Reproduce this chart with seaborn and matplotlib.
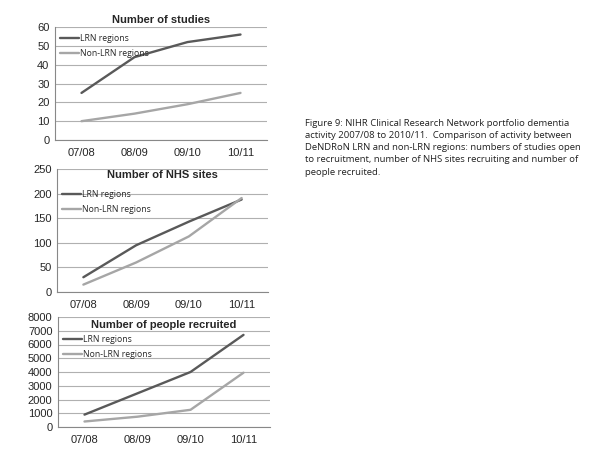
import matplotlib
matplotlib.use("Agg")
import matplotlib.pyplot as plt
import seaborn as sns
import pandas as pd

years = ["07/08", "08/09", "09/10", "10/11"]
series = ["LRN regions", "Non-LRN regions"]

studies_lrn = [25, 44, 52, 56]
studies_non = [10, 14, 19, 25]
sites_lrn = [30, 95, 143, 188]
sites_non = [15, 60, 113, 191]
people_lrn = [900, 2450, 4000, 6700]
people_non = [400, 750, 1250, 3950]

titles = ["Number of studies", "Number of NHS sites", "Number of people recruited"]
yticks = [range(0, 61, 10), range(0, 251, 50), range(0, 8001, 1000)]

caption = ("Figure 9: NIHR Clinical Research Network portfolio dementia\n"
           "activity 2007/08 to 2010/11.  Comparison of activity between\n"
           "DeNDRoN LRN and non-LRN regions: numbers of studies open\n"
           "to recruitment, number of NHS sites recruiting and number of\n"
           "people recruited.")

sns.set_style("white")
plt.rcParams["font.family"] = ["Liberation Sans", "DejaVu Sans"]

palette = {"LRN regions": "#595959", "Non-LRN regions": "#a6a6a6"}

fig = plt.figure(figsize=(6, 4.5), dpi=100)

# pixel boxes: left, top, right, bottom
boxes = [(55, 27, 267, 140), (57, 169, 268, 292), (58, 317, 270, 427)]
title_y = [1.06, 0.95, 0.93]
legend_y = [0.98, 0.87, 0.88]

panels = [(studies_lrn, studies_non), (sites_lrn, sites_non), (people_lrn, people_non)]

for i, (lrn, non) in enumerate(panels):
    l, t, r, b = boxes[i]
    ax = fig.add_axes([l / 600, 1 - b / 450, (r - l) / 600, (b - t) / 450])
    df = pd.DataFrame({
        "year": years * 2,
        "value": lrn + non,
        "series": [series[0]] * 4 + [series[1]] * 4,
    })
    df["x"] = df["year"].map({y: k for k, y in enumerate(years)})
    sns.lineplot(data=df, x="x", y="value", hue="series", palette=palette,
                 linewidth=1.7, ax=ax)
    ax.set_xlim(-0.5, 3.5)
    ax.set_ylim(min(yticks[i]), max(yticks[i]))
    ax.set_yticks(list(yticks[i]))
    ax.set_xticks(range(4))
    ax.set_xticklabels(years)
    ax.set_xticks([-0.5, 0.5, 1.5, 2.5, 3.5], minor=True)
    ax.tick_params(axis="x", which="major", length=0, labelsize=8, pad=6)
    ax.tick_params(axis="x", which="minor", length=4, color="#888888", direction="out")
    ax.tick_params(axis="y", length=0, labelsize=8, pad=4)
    ax.set_xlabel("")
    ax.set_ylabel("")
    ax.grid(axis="y", color="#b0b0b0", linewidth=0.8)
    for s in ["top", "right"]:
        ax.spines[s].set_visible(False)
    for s in ["left", "bottom"]:
        ax.spines[s].set_color("#888888")
        ax.spines[s].set_linewidth(0.8)
    ax.text(0.5, title_y[i], titles[i], transform=ax.transAxes, ha="center",
            va="center", fontsize=8, fontweight="bold")
    ax.legend(loc="upper left", bbox_to_anchor=(0.0, legend_y[i]),
              frameon=False, handlelength=2.2,
              handletextpad=0.1, borderaxespad=0.2, labelspacing=0.7,
              prop={"family": ["Open Sans", "DejaVu Sans"], "size": 6.2})

fig.text(305 / 600, 1 - 119 / 450, caption, ha="left", va="top",
         fontsize=6.8, family=["Open Sans", "DejaVu Sans"], linespacing=1.45,
         color="#222222")

fig.savefig("out.png", dpi=100)
